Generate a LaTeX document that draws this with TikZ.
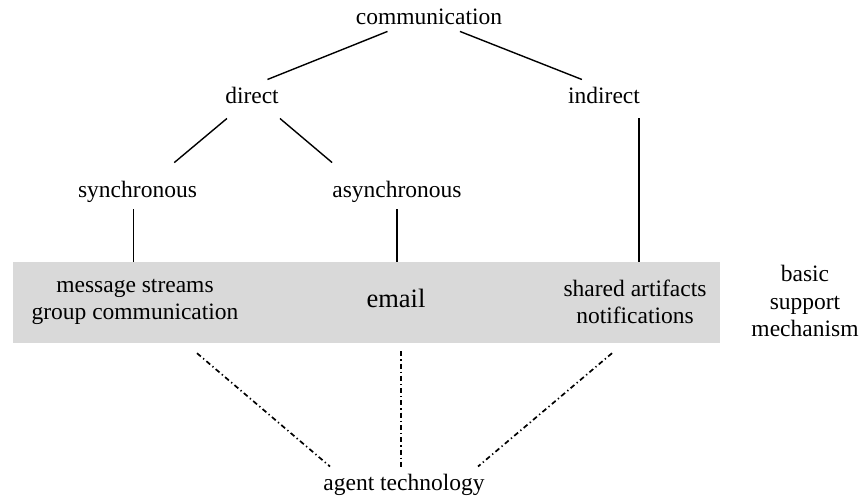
\documentclass[tikz,border=0pt]{standalone}
\usepackage{fontspec}
\setmainfont{Liberation Serif}
\definecolor{bandgray}{RGB}{217,217,217}
\tikzset{
  lbl/.style={font=\fontsize{23.5}{27.5}\selectfont, inner sep=7pt, align=center},
  link/.style={line width=1.4pt},
  agentlink/.style={line width=1.7pt, dash pattern=on 5pt off 3pt on 1.3pt off 3pt},
}
\begin{document}
\begin{tikzpicture}[x=1pt,y=-1pt]
        \useasboundingbox (0,0) rectangle (859,499);

        % Support band
        \node(band) [fill=bandgray, minimum width=707pt, minimum height=81pt, inner sep=0pt] at (366.5,302.5) {};

        % Nodes
        \node(comm) [lbl, anchor=base] at (429,24) {communication};
        \node(direct) [lbl, anchor=base] at (252,103) {direct};
        \node(indirect) [lbl, anchor=base] at (604,103) {indirect};
        \node(sync) [lbl, anchor=base] at (137.5,197) {synchronous};
        \node(async) [lbl, anchor=base] at (397,197) {asynchronous};
        \node(streams) [lbl] at (135,302) {message streams\\group communication};
        \node(email) [lbl, anchor=base, font=\fontsize{26.5}{30}\selectfont] at (396,307) {email};
        \node(shared) [lbl] at (635,302) {shared artifacts\\notifications};
        \node(basic) [lbl] at (805,301) {basic\\support\\mechanism};
        \node(agent) [lbl, anchor=base] at (404,490) {agent technology};

        % Edges
        \draw[link] (comm.200) -- (direct.45);
        \draw[link] (comm.334) -- (indirect.145);
        \draw[link, shorten <=12.5pt, shorten >=17pt] (direct.225) -- (sync.37);
        \draw[link, shorten <=12.5pt, shorten >=17pt] (direct.320) -- (async.161);
        \draw[link] ([xshift=-4pt]sync.south) -- ([xshift=-4pt]sync.south |- band.north);
        \draw[link] (async.south) -- (async.south |- band.north);
        \draw[link, shorten <=8pt] ([xshift=-8pt]indirect.south east) -- ([xshift=-8pt]indirect.south east |- band.north);

        % Agent links
        \draw[agentlink] ([shift={(-169.5,10)}]band.south) -- ([xshift=-74pt]agent.north);
        \draw[agentlink] ([shift={(34.5,8)}]band.south) -- ([xshift=-3pt]agent.north);
        \draw[agentlink] ([shift={(245.5,10)}]band.south) -- ([xshift=74pt]agent.north);
\end{tikzpicture}
\end{document}
